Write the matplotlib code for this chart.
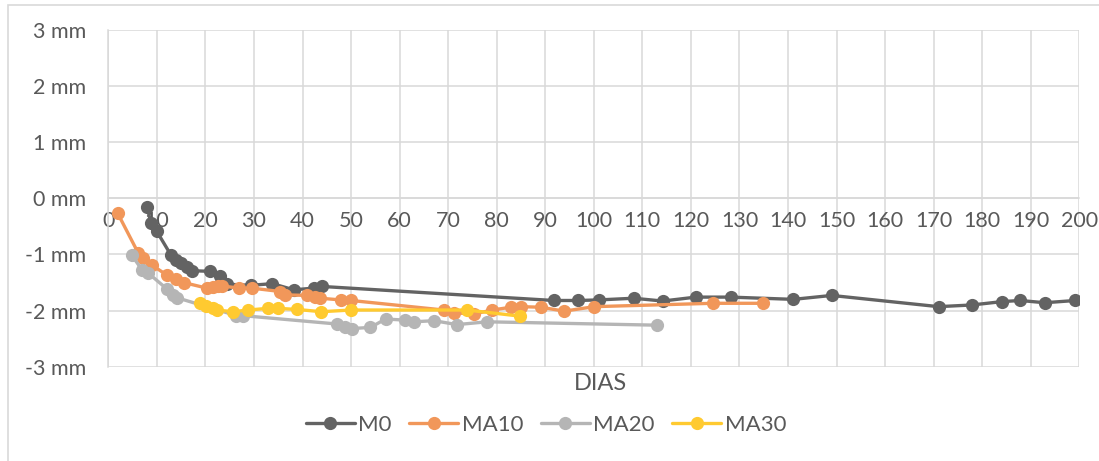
import matplotlib
matplotlib.use("Agg")
import matplotlib.pyplot as plt
from matplotlib.patches import Rectangle
from matplotlib.ticker import FuncFormatter, MultipleLocator

plt.rcParams['font.family'] = ['Lato', 'DejaVu Sans']

# Settlement readings (mm) against elapsed days for each mix
m0_days = [8.0, 8.8, 10.0, 12.9, 13.9, 14.9, 16.2, 17.3, 20.9, 23.0, 24.5, 29.3,
           33.8, 38.2, 42.3, 44.0, 91.7, 96.8, 101.0, 108.2, 114.2, 121.0, 128.2,
           141.1, 149.0, 171.0, 177.9, 184.1, 187.8, 192.9, 199.2]
m0_mm = [-0.16, -0.44, -0.59, -1.01, -1.10, -1.16, -1.22, -1.29, -1.30, -1.38,
         -1.53, -1.55, -1.52, -1.63, -1.60, -1.57, -1.82, -1.82, -1.81, -1.78,
         -1.83, -1.76, -1.76, -1.80, -1.73, -1.93, -1.90, -1.84, -1.82, -1.86, -1.82]

ma10_days = [1.9, 6.2, 7.2, 9.0, 12.1, 14.0, 15.5, 20.3, 21.6, 22.6, 23.4, 26.9,
             29.6, 35.4, 36.4, 41.0, 42.5, 43.7, 47.9, 50.0, 69.1, 71.2, 75.3,
             79.1, 82.9, 85.0, 89.1, 93.9, 100.1, 124.5, 134.8]
ma10_mm = [-0.26, -0.98, -1.07, -1.19, -1.37, -1.43, -1.50, -1.60, -1.58, -1.57,
           -1.56, -1.60, -1.60, -1.66, -1.72, -1.73, -1.76, -1.78, -1.81, -1.82,
           -1.99, -2.04, -2.06, -1.99, -1.94, -1.93, -1.94, -2.01, -1.93, -1.87, -1.87]

ma20_days = [4.8, 7.0, 8.2, 12.0, 13.4, 14.1, 26.4, 27.7, 47.2, 48.8, 50.2, 54.0,
             57.1, 61.1, 62.9, 67.1, 71.8, 78.0, 113.0]
ma20_mm = [-1.01, -1.28, -1.33, -1.61, -1.72, -1.77, -2.09, -2.09, -2.24, -2.29,
           -2.32, -2.30, -2.15, -2.17, -2.20, -2.18, -2.25, -2.20, -2.26]

ma30_days = [18.9, 20.1, 21.5, 22.3, 25.7, 28.8, 32.9, 35.0, 38.9, 43.9, 50.0,
             73.9, 84.9]
ma30_mm = [-1.87, -1.92, -1.96, -1.99, -2.02, -1.99, -1.96, -1.96, -1.98, -2.02,
           -1.99, -1.99, -2.10]

series = [
    ("M0", m0_days, m0_mm, "#636363"),
    ("MA10", ma10_days, ma10_mm, "#F1975A"),
    ("MA20", ma20_days, ma20_mm, "#B5B5B5"),
    ("MA30", ma30_days, ma30_mm, "#FFCA30"),
]

text_color = "#595959"
grid_color = "#D9D9D9"
W, H = 1099, 461

fig = plt.figure(figsize=(W / 100, H / 100), dpi=100)
fig.patch.set_facecolor("white")

# Chart-area border (only top and left edges fall inside the canvas)
fig.patches.append(Rectangle((8 / W, -0.1), 1.2, 1.1 - 5 / H,
                             transform=fig.transFigure, fill=False,
                             edgecolor=grid_color, linewidth=1.2))

ax = fig.add_axes([108.3 / W, 1 - 366.7 / H, (1079.3 - 108.3) / W, (366.7 - 30) / H])

for name, d, v, c in series:
    ax.plot(d, v, color=c, linewidth=2.4, marker="o", markersize=9.5,
            markeredgewidth=0, label=name, solid_capstyle="round", zorder=3)

ax.set_xlim(0, 200)
ax.set_ylim(-3, 3)
ax.xaxis.set_major_locator(MultipleLocator(10))
ax.yaxis.set_major_locator(MultipleLocator(1))
ax.yaxis.set_major_formatter(FuncFormatter(lambda v, p: f"{int(round(v))} mm"))

ax.grid(True, color=grid_color, linewidth=1.1, zorder=0)
ax.set_axisbelow(True)

for s in ["top", "right"]:
    ax.spines[s].set_visible(False)
ax.spines["left"].set_color(grid_color)
ax.spines["left"].set_linewidth(1.1)
ax.spines["bottom"].set_position(("data", 0))
ax.spines["bottom"].set_color(grid_color)
ax.spines["bottom"].set_linewidth(1.1)

ax.tick_params(axis="both", length=0, labelsize=15.5, labelcolor=text_color)
ax.tick_params(axis="y", pad=16)
ax.tick_params(axis="x", pad=9)

fig.text(600 / W, 1 - 384 / H, "DIAS", ha="center", va="center",
         fontsize=17, color=text_color)

leg = fig.legend(loc="center", bbox_to_anchor=(546 / W, 1 - 425 / H), ncol=4,
                 frameon=False, fontsize=16, handlelength=2.2,
                 handletextpad=0.15, columnspacing=0.8, labelcolor=text_color)

fig.savefig("out.png", dpi=100, facecolor="white")
